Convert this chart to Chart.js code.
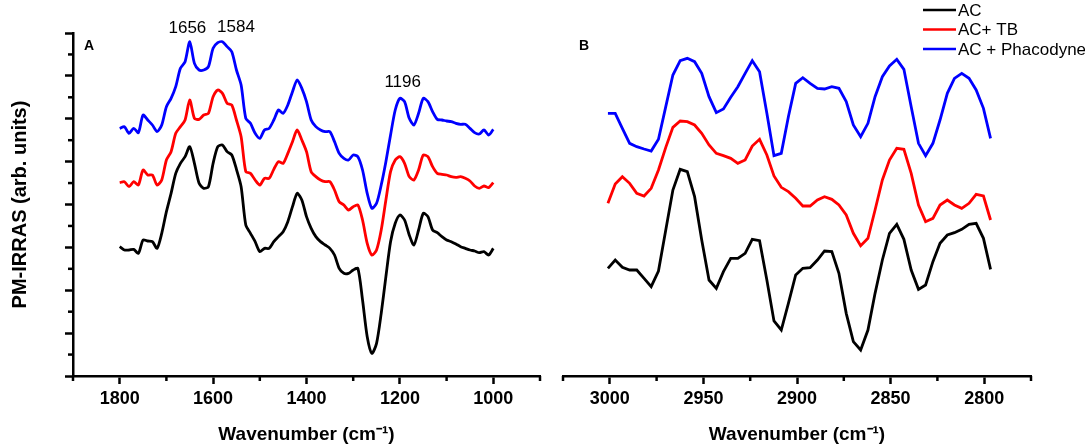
<!DOCTYPE html>
<html>
<head>
<meta charset="utf-8">
<title>PM-IRRAS spectra</title>
<script src="https://cdn.jsdelivr.net/npm/chart.js@4.4.1/dist/chart.umd.min.js"></script>
<style>
  body { margin: 0; background: #fff; }
  #wrap { position: relative; width: 1085px; height: 444px; }
  #chartA { position: absolute; left: 0; top: 0; }
  #chartB { position: absolute; left: 545px; top: 0; }
</style>
</head>
<body>
<div id="wrap">
  <canvas id="chartA" width="545" height="444"></canvas>
  <canvas id="chartB" width="540" height="444"></canvas>
</div>
<script>
// series names and colours
const seriesNames = ['AC', 'AC+ TB', 'AC + Phacodyne'];
const seriesColors = ['#000000', '#ff0000', '#0000ff'];

// panel A: 1800-1000 cm-1
const wnA = [1800, 1790, 1780, 1770, 1760, 1750, 1740, 1730, 1720, 1710,
  1700, 1690, 1680, 1670, 1660, 1650, 1640, 1630, 1620, 1610,
  1600, 1590, 1580, 1570, 1560, 1550, 1540, 1530, 1520, 1510,
  1500, 1490, 1480, 1470, 1460, 1450, 1440, 1430, 1420, 1410,
  1400, 1390, 1380, 1370, 1360, 1350, 1340, 1330, 1320, 1310,
  1300, 1290, 1280, 1270, 1260, 1250, 1240, 1230, 1220, 1210,
  1200, 1190, 1180, 1170, 1160, 1150, 1140, 1130, 1120, 1110,
  1100, 1090, 1080, 1070, 1060, 1050, 1040, 1030, 1020, 1010, 1000];

const acA = [3.88, 3.78, 3.78, 3.80, 3.68, 4.08, 4.05, 4.03, 3.83, 4.28,
  4.93, 5.48, 6.08, 6.38, 6.58, 6.88, 6.38, 5.78, 5.63, 5.68,
  6.38, 6.88, 6.93, 6.73, 6.63, 6.20, 5.68, 4.53, 4.28, 4.03,
  3.73, 3.83, 3.83, 4.03, 4.18, 4.33, 4.63, 5.08, 5.48, 5.28,
  4.78, 4.43, 4.18, 4.03, 3.93, 3.83, 3.63, 3.23, 3.08, 3.08,
  3.18, 3.23, 2.28, 1.18, 0.68, 0.98, 1.88, 2.98, 4.03, 4.58,
  4.83, 4.68, 4.23, 3.93, 4.38, 4.88, 4.78, 4.38, 4.30, 4.18,
  4.08, 4.03, 3.96, 3.88, 3.83, 3.78, 3.75, 3.70, 3.73, 3.63, 3.83];

const acTbA = [5.80, 5.83, 5.68, 5.83, 5.73, 6.18, 6.03, 6.03, 5.73, 5.88,
  6.48, 6.73, 7.28, 7.48, 7.68, 8.28, 7.73, 7.70, 7.83, 7.88,
  8.38, 8.58, 8.48, 8.18, 8.13, 7.68, 7.18, 6.13, 6.08, 5.88,
  5.73, 5.93, 5.93, 6.20, 6.43, 6.38, 6.68, 7.03, 7.38, 7.08,
  6.73, 6.13, 5.98, 5.88, 5.83, 5.83, 5.58, 5.23, 5.13, 4.98,
  5.08, 5.13, 4.68, 3.98, 3.63, 3.78, 4.38, 5.28, 6.13, 6.48,
  6.58, 6.38, 5.98, 5.88, 6.18, 6.63, 6.58, 6.28, 6.08, 6.05,
  6.03, 5.98, 5.96, 5.98, 5.93, 5.85, 5.70, 5.63, 5.70, 5.65, 5.80];

const acPhacoA = [7.43, 7.48, 7.28, 7.43, 7.30, 7.83, 7.68, 7.53, 7.33, 7.53,
  8.08, 8.33, 8.68, 9.23, 9.43, 10.03, 9.38, 9.18, 9.18, 9.28,
  9.83, 10.00, 10.03, 9.88, 9.73, 9.18, 8.73, 7.73, 7.58, 7.28,
  7.13, 7.38, 7.43, 7.68, 7.98, 7.88, 8.13, 8.53, 8.88, 8.63,
  8.23, 7.68, 7.48, 7.38, 7.33, 7.33, 7.03, 6.68, 6.53, 6.48,
  6.63, 6.58, 6.18, 5.48, 5.03, 5.18, 5.73, 6.43, 7.23, 7.98,
  8.33, 8.23, 7.73, 7.53, 7.88, 8.33, 8.23, 7.93, 7.70, 7.68,
  7.65, 7.63, 7.58, 7.55, 7.55, 7.43, 7.30, 7.26, 7.38, 7.23, 7.40];

// panel B: 3000-2800 cm-1
const wnB = [3001.0, 2997.1, 2993.3, 2989.4, 2985.6, 2981.7, 2977.9, 2974.0, 2970.1, 2966.3,
  2962.4, 2958.6, 2954.7, 2950.9, 2947.0, 2943.1, 2939.3, 2935.4, 2931.6, 2927.7,
  2923.9, 2920.0, 2916.1, 2912.3, 2908.4, 2904.6, 2900.7, 2896.9, 2893.0, 2889.1,
  2885.3, 2881.4, 2877.6, 2873.7, 2869.9, 2866.0, 2862.1, 2858.3, 2854.4, 2850.6,
  2846.7, 2842.9, 2839.0, 2835.1, 2831.3, 2827.4, 2823.6, 2819.7, 2815.9, 2812.0,
  2808.1, 2804.3, 2800.4, 2796.6];

const acB = [3.23, 3.48, 3.26, 3.18, 3.18, 2.93, 2.68, 3.15, 4.38, 5.58,
  6.20, 6.13, 5.38, 4.08, 2.88, 2.63, 3.13, 3.53, 3.53, 3.68,
  4.10, 4.06, 2.88, 1.65, 1.38, 2.18, 3.03, 3.23, 3.25, 3.48,
  3.75, 3.73, 3.08, 1.88, 1.03, 0.78, 1.38, 2.48, 3.48, 4.28,
  4.55, 4.10, 3.18, 2.60, 2.73, 3.43, 3.98, 4.23, 4.30, 4.40,
  4.55, 4.58, 4.13, 3.20];

const acTbB = [5.18, 5.76, 5.98, 5.78, 5.48, 5.40, 5.63, 6.18, 6.86, 7.46,
  7.65, 7.63, 7.53, 7.28, 6.93, 6.68, 6.61, 6.53, 6.38, 6.48,
  6.90, 7.10, 6.63, 6.00, 5.66, 5.53, 5.33, 5.10, 5.10, 5.28,
  5.38, 5.30, 5.13, 4.83, 4.28, 3.91, 4.13, 4.98, 5.88, 6.48,
  6.83, 6.80, 6.08, 5.13, 4.63, 4.73, 5.13, 5.28, 5.13, 5.03,
  5.18, 5.45, 5.40, 4.68];

const acPhacoB = [7.88, 7.88, 7.43, 6.98, 6.88, 6.81, 6.75, 7.10, 8.08, 9.03,
  9.46, 9.53, 9.43, 9.08, 8.38, 7.90, 8.01, 8.36, 8.68, 9.08,
  9.46, 9.13, 7.88, 6.61, 6.68, 7.78, 8.78, 8.95, 8.78, 8.63,
  8.61, 8.68, 8.63, 8.23, 7.53, 7.18, 7.58, 8.38, 8.98, 9.30,
  9.50, 9.20, 8.08, 6.98, 6.61, 6.98, 7.68, 8.48, 8.93, 9.08,
  8.93, 8.58, 8.03, 7.13];

// axis ticks
const xTicksA = [1800, 1600, 1400, 1200, 1000];
const xMinorA = [1900, 1700, 1500, 1300, 1100, 900];
const xTicksB = [3000, 2950, 2900, 2850, 2800];
const xMinorB = [3025, 2975, 2925, 2875, 2825, 2775];
const yMax = 10.29;
const yMajorCount = 8;

// peak labels in panel A
const peakLabels = [
  { text: '1656', x: 1655, y: 10.29 },
  { text: '1584', x: 1551, y: 10.32 },
  { text: '1196', x: 1194, y: 8.67 }
];

const yMajor = [];
const yMinor = [];
for (let i = 0; i <= yMajorCount; i++) {
  yMajor.push(i * yMax / yMajorCount);
  if (i < yMajorCount) yMinor.push((i + 0.5) * yMax / yMajorCount);
}

function makeDatasets(wn, series) {
  return series.map((vals, i) => ({
    label: seriesNames[i],
    data: vals.map((v, j) => ({ x: wn[j], y: v })),
    borderColor: seriesColors[i],
    borderWidth: 2.8,
    pointRadius: 0,
    fill: false
  }));
}

// minor ticks, panel letter, peak labels, legend
const extras = {
  id: 'extras',
  afterDraw(chart, args, opts) {
    const ctx = chart.ctx;
    const xs = chart.scales.x;
    const ys = chart.scales.y;
    ctx.save();
    ctx.strokeStyle = '#000';
    ctx.lineWidth = 2.5;
    (opts.xMinor || []).forEach(v => {
      const px = xs.getPixelForValue(v);
      ctx.beginPath();
      ctx.moveTo(px, xs.top);
      ctx.lineTo(px, xs.top + 5);
      ctx.stroke();
    });
    (opts.yMinor || []).forEach(v => {
      const py = ys.getPixelForValue(v);
      ctx.beginPath();
      ctx.moveTo(ys.right, py);
      ctx.lineTo(ys.right - 5, py);
      ctx.stroke();
    });

    // panel letter
    const area = chart.chartArea;
    ctx.fillStyle = '#000';
    ctx.font = 'bold 14px "Liberation Sans", Arial, sans-serif';
    ctx.textAlign = 'left';
    ctx.textBaseline = 'alphabetic';
    ctx.fillText(opts.letter, area.left + opts.letterDx, area.top + 17);

    // peak labels
    ctx.font = '17px "Liberation Sans", Arial, sans-serif';
    ctx.textAlign = 'center';
    (opts.peaks || []).forEach(p => {
      ctx.fillText(p.text, xs.getPixelForValue(p.x), ys.getPixelForValue(p.y));
    });

    // legend
    if (opts.legend) {
      const rows = [10, 29.5, 49];
      const x0 = chart.width - 162;
      chart.data.datasets.forEach((ds, i) => {
        ctx.strokeStyle = ds.borderColor;
        ctx.lineWidth = 2.6;
        ctx.beginPath();
        ctx.moveTo(x0, rows[i]);
        ctx.lineTo(x0 + 33, rows[i]);
        ctx.stroke();
        ctx.fillStyle = '#000';
        ctx.textAlign = 'left';
        ctx.textBaseline = 'middle';
        ctx.fillText(ds.label, x0 + 35, rows[i] + 1);
      });
    }
    ctx.restore();
  }
};

const tickFont = { family: '"Liberation Sans", Arial, sans-serif', size: 18, weight: 'bold' };
const titleFont = { family: '"Liberation Sans", Arial, sans-serif', size: 19, weight: 'bold', lineHeight: 1 };

function xScale(min, max, ticks) {
  return {
    type: 'linear',
    min: min,
    max: max,
    reverse: true,
    afterBuildTicks: s => { s.ticks = ticks.map(v => ({ value: v })); },
    afterFit: s => { s.height = 68; },
    ticks: {
      color: '#000',
      font: tickFont,
      padding: 4,
      maxRotation: 0,
      autoSkip: false,
      callback: v => String(v)
    },
    grid: {
      drawOnChartArea: false,
      drawTicks: true,
      tickLength: 8,
      tickWidth: 2.5,
      tickColor: '#000'
    },
    border: { display: true, color: '#000', width: 2.5 },
    title: {
      display: true,
      text: 'Wavenumber (cm⁻¹)',
      color: '#000',
      font: titleFont,
      padding: { top: 0, bottom: 0 }
    }
  };
}

Chart.defaults.font.family = '"Liberation Sans", Arial, sans-serif';

new Chart(document.getElementById('chartA'), {
  type: 'line',
  data: { datasets: makeDatasets(wnA, [acA, acTbA, acPhacoA]) },
  options: {
    responsive: false,
    animation: false,
    devicePixelRatio: 1,
    elements: { line: { tension: 0.25 } },
    layout: { padding: { left: 0, right: 5, top: 33, bottom: 0 } },
    scales: {
      x: xScale(900, 1900, xTicksA),
      y: {
        type: 'linear',
        min: 0,
        max: yMax,
        afterBuildTicks: s => { s.ticks = yMajor.map(v => ({ value: v })); },
        afterFit: s => { s.width = 73; },
        ticks: { display: false },
        grid: {
          drawOnChartArea: false,
          drawTicks: true,
          tickLength: 8,
          tickWidth: 2.5,
          tickColor: '#000'
        },
        border: { display: true, color: '#000', width: 2.5 },
        title: {
          display: true,
          text: 'PM-IRRAS (arb. units)',
          color: '#000',
          font: { family: '"Liberation Sans", Arial, sans-serif', size: 20, weight: 'bold', lineHeight: 1 },
          padding: { top: 10, bottom: 0 }
        }
      }
    },
    plugins: {
      legend: { display: false },
      tooltip: { enabled: false },
      extras: { xMinor: xMinorA, yMinor: yMinor, letter: 'A', letterDx: 11, peaks: peakLabels }
    }
  },
  plugins: [extras]
});

new Chart(document.getElementById('chartB'), {
  type: 'line',
  data: { datasets: makeDatasets(wnB, [acB, acTbB, acPhacoB]) },
  options: {
    responsive: false,
    animation: false,
    devicePixelRatio: 1,
    elements: { line: { tension: 0 } },
    layout: { padding: { left: 18, right: 54, top: 33, bottom: 0 } },
    scales: {
      x: xScale(2775, 3025, xTicksB),
      y: { type: 'linear', display: false, min: 0, max: yMax }
    },
    plugins: {
      legend: { display: false },
      tooltip: { enabled: false },
      extras: { xMinor: xMinorB, letter: 'B', letterDx: 16, legend: true }
    }
  },
  plugins: [extras]
});
</script>
</body>
</html>
